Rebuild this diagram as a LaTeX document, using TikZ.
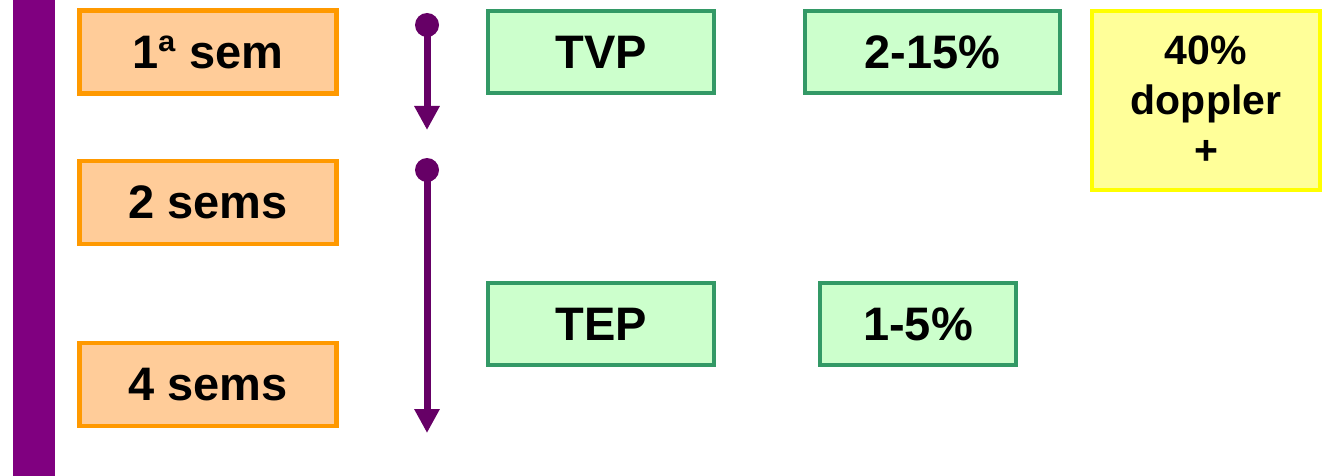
\documentclass[tikz,border=0pt]{standalone}
\usepackage{fontspec}
\setmainfont{Liberation Sans}
\usetikzlibrary{arrows.meta}
\definecolor{barpurple}{HTML}{800080}
\definecolor{arrpurple}{HTML}{660066}
\definecolor{orbord}{HTML}{FF9900}
\definecolor{orfill}{HTML}{FFCC99}
\definecolor{grbord}{HTML}{339966}
\definecolor{grfill}{HTML}{CCFFCC}
\definecolor{yebord}{HTML}{FFFF00}
\definecolor{yefill}{HTML}{FFFF99}
\tikzset{
  lbl/.style={font=\fontsize{47}{50}\selectfont\bfseries, inner sep=0pt, line width=4.5pt},
  orbox/.style={lbl, draw=orbord, fill=orfill, minimum width=257pt, minimum height=83pt},
  grbox/.style={lbl, draw=grbord, fill=grfill, minimum height=82pt},
  yebox/.style={font=\fontsize{41}{50}\selectfont\bfseries, inner sep=0pt, line width=4.5pt,
    draw=yebord, fill=yefill, minimum width=228pt, minimum height=179pt, align=center},
  tline/.style={draw=arrpurple, line width=7pt, -{Triangle[width=24pt,length=24pt]}, arrpurple},
}
\begin{document}
\begin{tikzpicture}[x=1pt,y=-1pt]
\useasboundingbox (0,0) rectangle (1324,476);
\fill[barpurple] (13,0) rectangle (55,476);
\node[orbox] (s1) at (208,52) {1ª sem};
\node[orbox] (s2) at (208,202.5) {2 sems};
\node[orbox] (s4) at (208,384.5) {4 sems};
\node[grbox, minimum width=226pt] (tvp) at (601,52) {TVP};
\node[grbox, minimum width=255pt] (p215) at (932.5,52) {2-15\%};
\node[grbox, minimum width=226pt] (tep) at (601,324) {TEP};
\node[grbox, minimum width=196pt] (p15) at (918,324) {1-5\%};
\node[yebox] (dop) at (1206,100.5) {40\%\\doppler\\+};
\coordinate (a1s) at (427,25);
\coordinate (a1e) at (427,130);
\coordinate (a2s) at (427,170);
\coordinate (a2e) at (427,433);
\fill[arrpurple] (a1s) circle (12);
\fill[arrpurple] (a2s) circle (12);
\draw[tline] (a1s) -- (a1e);
\draw[tline] (a2s) -- (a2e);
\end{tikzpicture}
\end{document}
